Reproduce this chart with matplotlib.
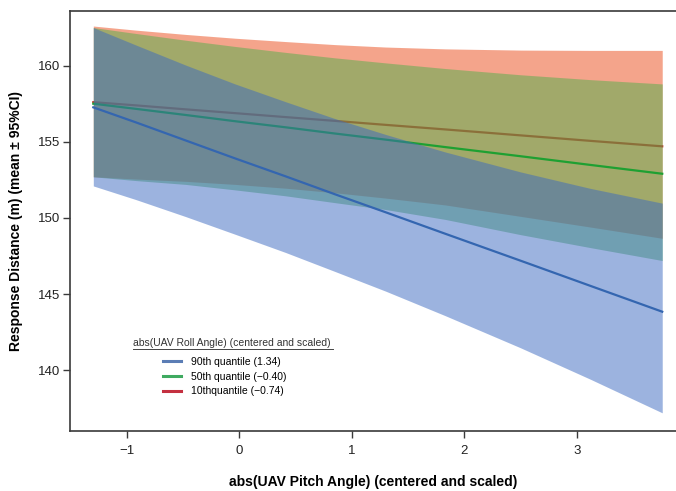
import matplotlib.pyplot as plt
from matplotlib.lines import Line2D

plt.rcParams['font.family'] = ['Liberation Sans', 'DejaVu Sans']

# pitch angle positions where the curves were read
pitch = [-1.30, -0.92, -0.48, -0.04, 0.41, 0.85, 1.30, 1.83, 2.50, 3.12, 3.76]

# 90th quantile roll (1.34)
q90_mean = [157.26, 156.27, 155.09, 153.91, 152.73, 151.55, 150.37, 148.96, 147.19, 145.54, 143.84]
q90_lo = [152.1, 151.2, 150.09, 148.93, 147.73, 146.48, 145.19, 143.58, 141.47, 139.41, 137.2]
q90_hi = [162.5, 161.35, 160.04, 158.8, 157.63, 156.52, 155.48, 154.33, 153.02, 151.94, 150.97]

# 50th quantile roll (-0.40)
q50_mean = [157.5, 157.16, 156.76, 156.35, 155.95, 155.54, 155.14, 154.65, 154.05, 153.48, 152.9]
q50_lo = [152.7, 152.45, 152.2, 151.84, 151.45, 151.0, 150.55, 149.9, 148.9, 148.05, 147.2]
q50_hi = [162.5, 162.11, 161.67, 161.26, 160.87, 160.51, 160.18, 159.81, 159.4, 159.08, 158.8]

# 10th quantile roll (-0.74)
q10_mean = [157.6, 157.39, 157.13, 156.88, 156.62, 156.37, 156.11, 155.81, 155.42, 155.06, 154.7]
q10_lo = [152.7, 152.55, 152.4, 152.2, 151.95, 151.65, 151.3, 150.85, 150.1, 149.4, 148.66]
q10_hi = [162.6, 162.33, 162.05, 161.8, 161.58, 161.38, 161.22, 161.1, 161.02, 161.0, 161.0]

labels = ["90th quantile (1.34)", "50th quantile (\u22120.40)", "10thquantile (\u22120.74)"]

fig = plt.figure(figsize=(6.76, 4.91), dpi=100)
ax = fig.add_axes([0.1036, 0.122, 0.896, 0.856])

# red first, then green, blue on top; each line sits under the next band
ax.fill_between(pitch, q10_lo, q10_hi, color="#eb4b19", alpha=0.5, lw=0, zorder=1)
ax.plot(pitch, q10_mean, color="#c8322a", lw=1.6, zorder=1.5)
ax.fill_between(pitch, q50_lo, q50_hi, color="#50af4b", alpha=0.5, lw=0, zorder=2)
ax.plot(pitch, q50_mean, color="#1ea032", lw=1.6, zorder=2.5)
ax.fill_between(pitch, q90_lo, q90_hi, color="#3b69c1", alpha=0.5, lw=0, zorder=3)
ax.plot(pitch, q90_mean, color="#3466b0", lw=1.6, zorder=3.5)

ax.set_xlim(-1.507, 3.88)
ax.set_ylim(136.0, 163.6)
ax.set_xticks([-1, 0, 1, 2, 3])
ax.set_xticklabels(["\u22121", "0", "1", "2", "3"])
ax.set_yticks([140, 145, 150, 155, 160])

for s in ["left", "bottom", "top"]:
    ax.spines[s].set_color("#3a3a3a")
    ax.spines[s].set_linewidth(1.2)
ax.spines["right"].set_visible(False)
ax.tick_params(direction="out", length=5, width=1, color="#3a3a3a",
               labelsize=9.5, labelcolor="#222222")
ax.tick_params(axis="x", pad=5)
ax.tick_params(axis="y", pad=2)

ax.set_xlabel("abs(UAV Pitch Angle) (centered and scaled)", fontsize=10,
              fontweight="bold", labelpad=13)
ax.set_ylabel("Response Distance (m) (mean \u00b1 95%CI)", fontsize=10,
              fontweight="bold", labelpad=11)

# legend title with underline
ax.text(0.104, 0.2095, "abs(UAV Roll Angle) (centered and scaled)",
        transform=ax.transAxes, fontsize=7.5, color="#333333", va="center")
ax.plot([0.104, 0.434], [0.196, 0.196], transform=ax.transAxes,
        color="#444444", lw=0.7)

handles = [Line2D([], [], color=c, lw=2.2)
           for c in ["#5b7db5", "#3faa60", "#c43040"]]
ax.legend(handles, labels, loc="upper left", bbox_to_anchor=(0.146, 0.186),
          frameon=False, fontsize=7.5, handlelength=1.73, handletextpad=0.96,
          labelspacing=0.45, borderaxespad=0)

fig.savefig("out.png", dpi=100)
